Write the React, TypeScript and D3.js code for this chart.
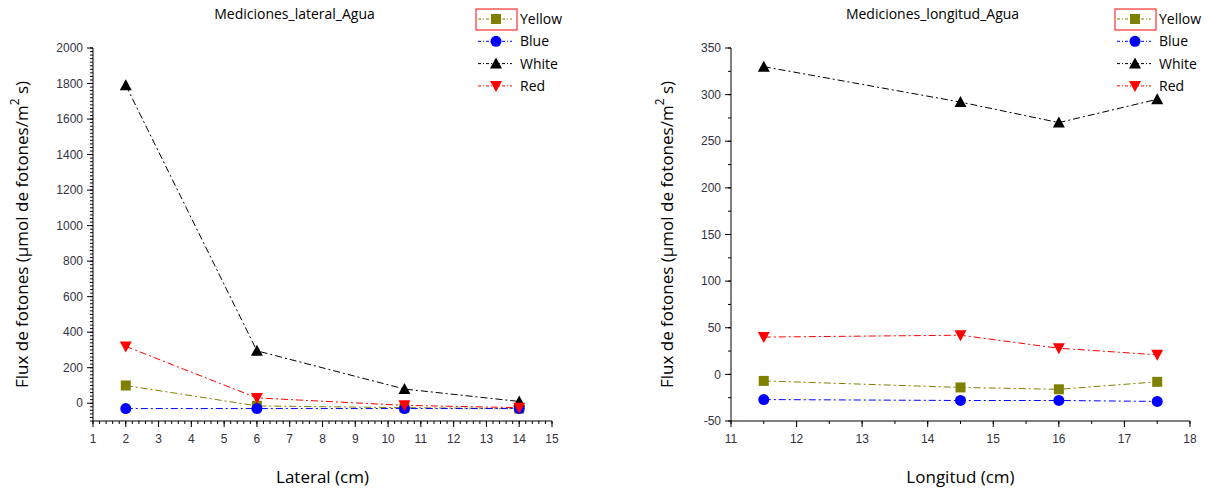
import React from 'react';
import * as d3 from 'd3';

const seriesNames = ['Yellow', 'Blue', 'White', 'Red'];

const lateralX = [2, 6, 10.5, 14];
const lateralYellow = [100, -15, -25, -30];
const lateralBlue = [-30, -30, -30, -30];
const lateralWhite = [1790, 295, 80, 10];
const lateralRed = [320, 30, -12, -25];

const longitudX = [11.5, 14.5, 16, 17.5];
const longitudYellow = [-7, -14, -16, -8];
const longitudBlue = [-27, -28, -28, -29];
const longitudWhite = [330, 292, 270, 295];
const longitudRed = [40, 42, 28, 21];

const lateralXTicks = [1, 2, 3, 4, 5, 6, 7, 8, 9, 10, 11, 12, 13, 14, 15];
const lateralYTicks = [0, 200, 400, 600, 800, 1000, 1200, 1400, 1600, 1800, 2000];
const longitudXTicks = [11, 12, 13, 14, 15, 16, 17, 18];
const longitudYTicks = [-50, 0, 50, 100, 150, 200, 250, 300, 350];

const colors: Record<string, string> = {
  Yellow: '#808000',
  Blue: '#0000ff',
  White: '#000000',
  Red: '#ff0000',
};

const tickColor = '#333340';
const labelFont = 'Open Sans, Noto Sans, sans-serif';
const tickFont = 'Liberation Sans, Arial, sans-serif';

const Marker = ({ name, x, y }: { name: string; x: number; y: number }) => {
  const c = colors[name];
  if (name === 'Yellow') return <rect x={x - 5} y={y - 5} width={10} height={10} fill={c} />;
  if (name === 'Blue') return <circle cx={x} cy={y} r={5.5} fill={c} />;
  if (name === 'White') return <path d={`M${x},${y - 6}L${x + 6},${y + 5}L${x - 6},${y + 5}Z`} fill={c} />;
  return <path d={`M${x},${y + 6}L${x + 6},${y - 5}L${x - 6},${y - 5}Z`} fill={c} />;
};

type PanelProps = {
  title: string;
  xLabel: string;
  xs: number[];
  series: Record<string, number[]>;
  xDomain: [number, number];
  yDomain: [number, number];
  xTicks: number[];
  yTicks: number[];
  xMinor: number;
  yMinor: number;
  left: number;
  right: number;
  legendX: number;
  yLabelX: number;
};

const Panel = (p: PanelProps) => {
  const top = 48;
  const bottom = 421;
  const x = d3.scaleLinear().domain(p.xDomain).range([p.left, p.right]);
  const y = d3.scaleLinear().domain(p.yDomain).range([bottom, top]);
  const xMinorTicks = d3.range(p.xDomain[0], p.xDomain[1] + 1e-9, p.xMinor);
  const yMinorTicks = d3.range(p.yDomain[0], p.yDomain[1] + 1e-9, p.yMinor);
  const line = d3.line<[number, number]>().x(d => x(d[0])).y(d => y(d[1]));
  const topY = y(p.yDomain[1]);

  return (
    <g>
      <text x={(p.left + p.right) / 2 - 28} y={19} textAnchor="middle" fontSize={14} fontFamily={labelFont} fill="#000">{p.title}</text>
      {/* axes */}
      <line x1={p.left} x2={p.left} y1={topY} y2={bottom} stroke="#000" strokeWidth={1} />
      <line x1={p.left} x2={p.right} y1={bottom} y2={bottom} stroke="#000" strokeWidth={1} />
      {xMinorTicks.map((t, i) => (
        <line key={`xm-${i}`} x1={x(t)} x2={x(t)} y1={bottom} y2={bottom + 3} stroke="#000" strokeWidth={1} />
      ))}
      {p.xTicks.map(t => (
        <g key={`xt-${t}`}>
          <line x1={x(t)} x2={x(t)} y1={bottom} y2={bottom + 6} stroke="#000" strokeWidth={1} />
          <text x={x(t)} y={bottom + 22} textAnchor="middle" fontSize={12} fontFamily={tickFont} fill={tickColor}>{t}</text>
        </g>
      ))}
      {yMinorTicks.map((t, i) => (
        <line key={`ym-${i}`} x1={p.left - 3} x2={p.left} y1={y(t)} y2={y(t)} stroke="#000" strokeWidth={1} />
      ))}
      {p.yTicks.map(t => (
        <g key={`yt-${t}`}>
          <line x1={p.left - 6} x2={p.left} y1={y(t)} y2={y(t)} stroke="#000" strokeWidth={1} />
          <text x={p.left - 10} y={y(t)} dy="0.35em" textAnchor="end" fontSize={12} fontFamily={tickFont} fill={tickColor}>{t}</text>
        </g>
      ))}
      <text x={(p.left + p.right) / 2} y={483} textAnchor="middle" fontSize={17} fontFamily={labelFont} fill="#000">{p.xLabel}</text>
      <text transform={`translate(${p.yLabelX},${(top + bottom) / 2}) rotate(-90)`} textAnchor="middle" fontSize={17} fontFamily={labelFont} fill="#000">
        Flux de fotones (µmol de fotones/m<tspan dy={-9} fontSize={12}>2</tspan><tspan dy={9}> s)</tspan>
      </text>
      {/* series */}
      {seriesNames.map(name => {
        const pts = p.xs.map((xv, i) => [xv, p.series[name][i]] as [number, number]);
        return (
          <g key={name}>
            <path d={line(pts) || ''} fill="none" stroke={colors[name]} strokeWidth={1} strokeDasharray="7,3,2,3" />
            {pts.map((d, i) => <Marker key={i} name={name} x={x(d[0])} y={y(d[1])} />)}
          </g>
        );
      })}
      {/* legend */}
      <rect x={p.legendX - 2} y={9} width={41} height={21} fill="none" stroke="#ff3030" strokeWidth={1.2} />
      {seriesNames.map((name, i) => {
        const ly = 19 + i * 22.3;
        return (
          <g key={`lg-${name}`}>
            <line x1={p.legendX} x2={p.legendX + 34} y1={ly} y2={ly} stroke={colors[name]} strokeWidth={1} strokeDasharray="3,2,1,2" />
            <Marker name={name} x={p.legendX + 18} y={ly} />
            <text x={p.legendX + 42} y={ly} dy="0.35em" fontSize={14} fontFamily={labelFont} fill="#000">{name}</text>
          </g>
        );
      })}
    </g>
  );
};

export default function App() {
  return (
    <svg width={1208} height={488} style={{ position: 'absolute', left: 0, top: 0, background: '#fff' }}>
      <Panel
        title="Mediciones_lateral_Agua"
        xLabel="Lateral (cm)"
        xs={lateralX}
        series={{ Yellow: lateralYellow, Blue: lateralBlue, White: lateralWhite, Red: lateralRed }}
        xDomain={[1, 15]}
        yDomain={[-100, 2000]}
        xTicks={lateralXTicks}
        yTicks={lateralYTicks}
        xMinor={0.2}
        yMinor={20}
        left={93}
        right={552}
        legendX={478}
        yLabelX={28}
      />
      <Panel
        title="Mediciones_longitud_Agua"
        xLabel="Longitud (cm)"
        xs={longitudX}
        series={{ Yellow: longitudYellow, Blue: longitudBlue, White: longitudWhite, Red: longitudRed }}
        xDomain={[11, 18]}
        yDomain={[-50, 350]}
        xTicks={longitudXTicks}
        yTicks={longitudYTicks}
        xMinor={0.5}
        yMinor={25}
        left={731}
        right={1190}
        legendX={1117}
        yLabelX={673}
      />
    </svg>
  );
}
